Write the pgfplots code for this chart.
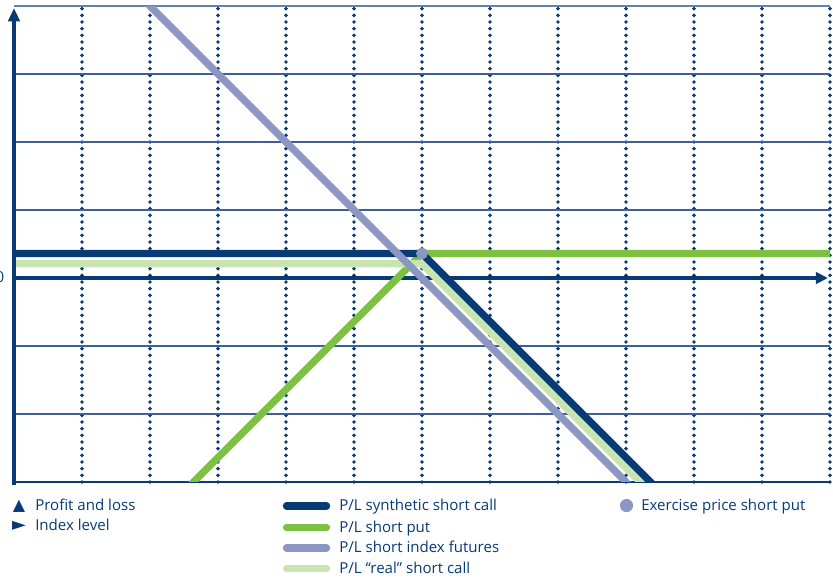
\documentclass[border=0pt]{standalone}
\usepackage{pgfplots}
\pgfplotsset{compat=1.18}
\usepackage{fontspec}
\setmainfont{Open Sans}
\newfontfamily\symfont{DejaVu Sans}
\usetikzlibrary{arrows.meta}
\definecolor{navy}{RGB}{8,58,118}
\definecolor{gridblue}{RGB}{62,96,150}
\definecolor{topblue}{RGB}{100,128,172}
\definecolor{pgreen}{RGB}{125,193,66}
\definecolor{ppurple}{RGB}{139,150,194}
\definecolor{plgreen}{RGB}{200,228,176}
\newcommand\lgfont{\fontsize{11.3}{13}\selectfont}
\begin{document}
\begin{tikzpicture}[x=0.75pt,y=0.75pt]
\begin{axis}[
  name=ax,
  scale only axis, width=612pt, height=357pt,
  xmin=0, xmax=12, ymin=-3, ymax=4,
  clip mode=individual,
  axis line style={draw=none},
  tick style={draw=none},
  xtick={1,...,12}, ytick={-2,-1,1,2,3},
  xticklabels={}, yticklabels={},
  xmajorgrids, ymajorgrids,
  x grid style={navy, line width=2.9pt, line cap=round, dash pattern=on 0pt off 5pt},
  y grid style={gridblue, line width=1.1pt},
]
\draw[topblue, line width=1.3pt] (axis cs:0,4) -- (axis cs:12,4);
\draw[navy, line width=1.6pt] (axis cs:0,-3) -- (axis cs:12,-3);
\draw[navy, line width=2.3pt, -{Triangle[length=9pt,width=8.5pt]}] (axis cs:0,0) -- (axis cs:11.97,0);

% P/L short put
\addplot[pgreen, line width=5.5pt] coordinates {(2.5,-3.14) (6,0.36) (12.2,0.36)};
% P/L "real" short call
\addplot[plgreen, line width=5.5pt] coordinates {(-0.1,0.21) (6,0.21) (9.4,-3.19)};
% P/L synthetic short call
\addplot[navy, line width=5.5pt] coordinates {(-0.1,0.36) (6,0.36) (9.56,-3.2)};
% P/L short index futures
\addplot[ppurple, line width=5.5pt] coordinates {(1.8,4.2) (9.2,-3.2)};
% Exercise price short put
\addplot[only marks, mark=*, mark size=4.2pt, ppurple] coordinates {(6,0.36)};

\draw[navy, line width=3pt, -{Triangle[length=10pt,width=8.5pt]}] (axis cs:0,-3.05) -- (axis cs:0,3.97);
\end{axis}
\begin{scope}[shift={(ax.south west)}]
\node[anchor=east, inner sep=0pt, text=navy, font=\lgfont] at (-9.5,205) {0};
% left legend column
\node[anchor=base, inner sep=0pt, text=navy, font=\symfont\fontsize{12}{12}\selectfont] at (5,-29) {▲};
\node[anchor=base west, inner sep=0pt, text=navy, font=\lgfont] at (21,-29) {Profit and loss};
\node[anchor=base, inner sep=0pt, text=navy, font=\symfont\fontsize{13.5}{14}\selectfont] at (5,-49) {►};
\node[anchor=base west, inner sep=0pt, text=navy, font=\lgfont] at (21,-49) {Index level};
% middle legend column
\draw[navy, line width=5.5pt, line cap=round] (272.5,-24) -- (312.5,-24);
\node[anchor=base west, inner sep=0pt, text=navy, font=\lgfont] at (325,-29) {P/L synthetic short call};
\draw[pgreen, line width=5.5pt, line cap=round] (272.5,-45.5) -- (312.5,-45.5);
\node[anchor=base west, inner sep=0pt, text=navy, font=\lgfont] at (325,-50.5) {P/L short put};
\draw[ppurple, line width=5.5pt, line cap=round] (272.5,-66) -- (312.5,-66);
\node[anchor=base west, inner sep=0pt, text=navy, font=\lgfont] at (325,-71) {P/L short index futures};
\draw[plgreen, line width=5.5pt, line cap=round] (272.5,-86.3) -- (312.5,-86.3);
\node[anchor=base west, inner sep=0pt, text=navy, font=\lgfont] at (325,-91.3) {P/L ``real'' short call};
% right legend column
\node[anchor=center, inner sep=0pt, text=ppurple, font=\symfont\fontsize{13}{14}\selectfont] at (612.7,-24) {●};
\node[anchor=base west, inner sep=0pt, text=navy, font=\lgfont] at (627,-29) {Exercise price short put};
\pgfresetboundingbox
\path[use as bounding box] (-14,-97) rectangle (819,482);
\end{scope}
\end{tikzpicture}
\end{document}
